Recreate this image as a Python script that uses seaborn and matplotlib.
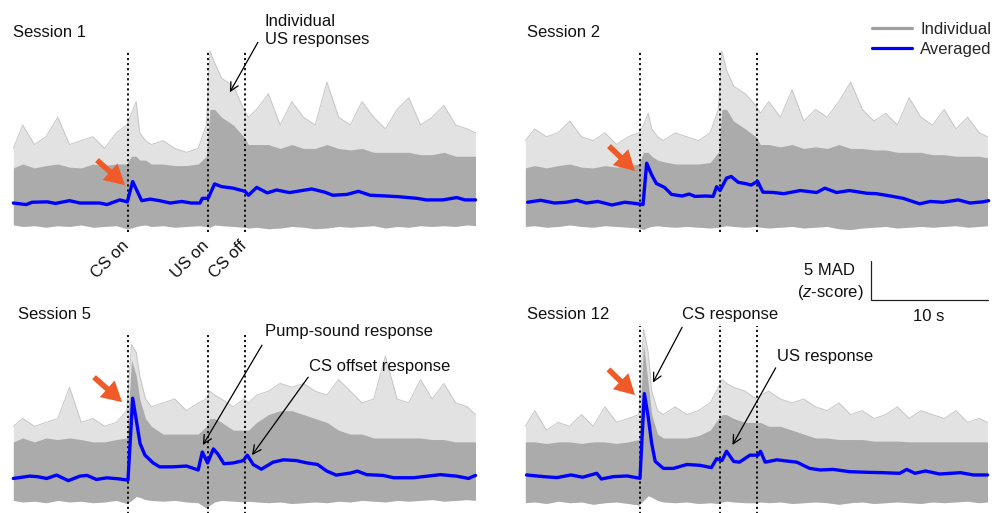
import numpy as np
import seaborn as sns
import matplotlib.pyplot as plt
from matplotlib.lines import Line2D

# Global plot settings
sns.set_theme(style="white")
plt.rcParams["font.family"] = ["Liberation Sans", "DejaVu Sans"]
plt.rcParams["mathtext.fontset"] = "custom"
plt.rcParams["mathtext.it"] = "Liberation Sans:italic"
plt.rcParams["mathtext.rm"] = "Liberation Sans"

# Event times (s, relative to CS onset)
events = [0.0, 6.84, 10.0]
event_labels = ["CS on", "US on", "CS off"]

# Time grid of the individual-trace envelopes (s)
t_env = [-9.8, -9, -8, -7, -6, -5, -4, -3, -2, -1,
         -0.1, 0.3, 0.7, 1, 1.5, 2,
         3, 4, 5, 6,
         6.7, 7.0, 7.4, 8, 9,
         9.9, 10.3,
         11, 12, 13, 14, 15, 16, 17, 18, 19, 20, 21, 22, 23, 24, 25, 26, 27, 28, 29, 29.7]

# ---- Session 1 (MAD, z-score) ----
s1_peak = [7, 10, 7.5, 8.5, 11, 7.5, 8, 8.5, 7, 9,
           10, 11.5, 13, 9, 8, 7.5,
           8, 7, 6.5, 7,
           10, 19.5, 18, 16, 15,
           12, 11,
           12, 14, 10, 13, 11, 10, 15.5, 11, 10, 13, 11, 9.5, 12, 13.5, 10, 11, 12.5, 10, 9.5, 9]
s1_dense = [4.5, 5, 4.5, 4.8, 5, 4.6, 4.5, 5, 4.8, 5,
            5, 6, 6, 5.5, 5.5, 5,
            5, 4.8, 4.8, 5,
            6, 12, 12, 11, 10,
            8.5, 7.5,
            7.5, 7.5, 7, 7.5, 7, 7, 7.5, 7, 6.8, 7, 6.5, 6.5, 6.5, 6.5, 6.2, 6.2, 6.5, 6, 6, 6]
s1_low = [-2.8, -3.0, -2.9, -3.1, -2.9, -3.0, -2.8, -3.1, -3.0, -2.9,
          -3.3, -3.2, -3.0, -2.9, -2.8, -3.0,
          -2.9, -3.1, -3.0, -2.9,
          -3.0, -3.1, -2.8, -2.9, -3.0,
          -3.1, -3.2,
          -3.1, -3.3, -3.2, -3.0, -3.1, -3.3, -3.2, -3.0, -3.1, -3.0, -2.9, -3.2, -3.0, -3.1, -2.9, -3.0, -2.9, -3.0, -2.8, -2.9]
s1_t = [-9.8, -8.7, -8.2, -6.9, -6.2, -5.0, -4.1, -2.4, -1.8, -0.7, -0.06, 0.4, 1.17, 1.9, 2.7,
        3.6, 4.6, 5.4, 6.15, 6.35, 6.85, 7.4, 8.0, 9.0, 10.0, 10.3, 11.0, 11.9, 12.7, 13.8,
        15.7, 16.8, 17.5, 18.7, 19.7, 20.7, 22.1, 23.2, 24.7, 25.5, 26.9, 28.1, 28.8, 29.7]
s1_avg = [0, -0.2, 0.1, 0.15, -0.05, 0.3, 0.0, 0.0, -0.2, 0.4, 0.15, 2.75, 0.3, 0.5, 0.3,
          0.0, 0.2, 0.0, 0.0, 0.6, 0.6, 2.45, 2.1, 1.9, 1.5, 1.0, 2.0, 1.3, 1.67, 1.34,
          1.8, 1.4, 1.0, 1.1, 1.5, 1.0, 0.9, 0.8, 0.6, 0.4, 0.4, 0.7, 0.4, 0.4]

# ---- Session 2 ----
s2_peak = [8, 9.5, 8.5, 9, 10.5, 8.5, 8, 9, 7.5, 8.5,
           9, 10, 11.5, 9.5, 8.5, 8,
           9, 8.5, 8, 9,
           12, 19.5, 17, 15, 14,
           12.5, 11.5,
           13, 11, 14.5, 10.5, 12, 11, 13, 15.5, 12, 10.5, 11.5, 10, 13.5, 11, 10, 12, 9.5, 11, 9, 8.5]
s2_dense = [4.5, 4.8, 4.5, 4.8, 5, 4.6, 4.5, 4.8, 4.6, 4.8,
            5, 6.5, 6.5, 6, 5.5, 5.3,
            5, 5, 5, 5.2,
            6.5, 12, 12, 10.5, 9.5,
            8.5, 7.5,
            7.5, 7.2, 7.5, 7, 7.2, 7, 7.5, 7, 7, 6.8, 6.8, 6.5, 6.5, 6.5, 6.2, 6.2, 6, 6, 6, 5.8]
s2_low = [-3.0, -2.9, -3.1, -3.0, -2.8, -3.0, -3.1, -2.9, -3.0, -3.1,
          -3.2, -3.4, -3.1, -3.0, -2.9, -3.0,
          -3.1, -3.0, -3.1, -3.2,
          -3.1, -3.0, -2.9, -3.0, -3.1,
          -3.0, -3.1,
          -3.2, -3.1, -3.0, -3.2, -3.1, -3.0, -3.3, -3.4, -3.2, -3.1, -3.0, -3.2, -3.1, -3.0, -3.1, -3.0, -2.9, -3.1, -3.0, -2.9]
s2_t = [-9.6, -8.5, -7.3, -6.3, -5.4, -4.6, -3.6, -2.4, -1.3, -0.43, 0.26, 0.57, 1.0, 1.4, 2.1,
        2.7, 3.6, 4.2, 4.7, 5.6, 6.25, 6.55, 6.84, 7.4, 7.8, 8.4, 9.0, 9.5, 10.05, 10.5, 11.4,
        12.3, 13.7, 15.1, 15.8, 16.8, 17.9, 19.4, 20.2, 21.4, 22.5, 23.9, 24.8, 25.9, 27.2, 28.2,
        29.3, 29.8]
s2_avg = [0.1, 0.35, 0.0, 0.1, 0.35, 0.0, 0.2, -0.25, 0.1, -0.05, -0.2, 5.1, 3.6, 2.5, 2.0,
          1.1, 0.9, 1.15, 0.85, 0.9, 0.85, 2.1, 1.6, 3.2, 3.4, 2.65, 2.5, 2.3, 2.8, 1.4, 1.35,
          1.2, 1.6, 1.35, 1.9, 1.35, 1.6, 1.25, 1.2, 0.9, 0.6, -0.1, 0.2, 0.1, 0.4, 0.0,
          0.15, 0.3]

# ---- Session 5 ----
s5_peak = [6.5, 7.5, 6.5, 7, 7.5, 11.5, 7, 7.5, 6.5, 7,
           8.5, 17, 16, 13, 10, 9,
           9.5, 10, 8.5, 9.5,
           10, 11, 10.5, 10, 9,
           10, 9.5,
           10.5, 11, 12, 11.5, 12, 11, 10.5, 12.5, 11, 9.5, 10, 15.5, 10, 9.5, 12.5, 10, 12, 9.5, 9, 8]
s5_dense = [4.5, 5, 4.5, 5, 4.8, 5, 4.8, 4.5, 4.5, 4.8,
            5, 15, 13, 10, 7.5, 6.5,
            5.5, 5.5, 5.5, 5.5,
            6.5, 7.5, 7.5, 7, 6,
            6, 6,
            7, 8, 8.5, 8.5, 8, 7.5, 7, 6, 5.5, 5.5, 5, 5, 5, 5, 5, 4.8, 4.8, 4.5, 4.5, 4.5]
s5_low = [-3.0, -3.2, -3.1, -3.3, -3.0, -3.2, -3.1, -3.3, -3.2, -3.0,
          -3.4, -3.0, -2.5, -2.6, -2.9, -3.0,
          -3.1, -3.0, -3.2, -3.3,
          -4.0, -3.6, -3.2, -3.0, -3.1,
          -3.2, -3.1,
          -3.2, -3.3, -3.2, -3.4, -3.3, -3.2, -3.3, -3.1, -3.2, -3.0, -3.1, -3.2, -3.0, -3.1, -3.0, -2.9, -3.1, -3.0, -2.9, -3.0]
s5_t = [-9.8, -8.4, -7.7, -6.95, -6.1, -5.1, -4.1, -3.5, -2.7, -1.8, -0.8, 0.0, 0.4, 0.74,
        1.03, 1.45, 2.15, 2.7, 3.8, 5.0, 6.0, 6.35, 6.8, 7.3, 7.7, 8.2, 9.0, 9.85, 10.2, 10.7,
        11.4, 12.4, 13.3, 14.4, 15.3, 16.2, 17.0, 17.8, 19.0, 19.6, 20.4, 21.8, 22.7, 24.4,
        26.7, 28.1, 29.1, 29.7]
s5_avg = [-0.19, 0.11, 0.03, -0.19, 0.24, -0.47, 0.11, 0.2, -0.32, -0.11, -0.24, -0.41, 10.1, 7.0,
          4.3, 2.8, 1.8, 1.3, 1.3, 1.4, 0.9, 3.2, 1.8, 3.6, 2.9, 1.7, 1.8, 2.1, 2.8, 1.6,
          1.0, 1.9, 2.2, 2.1, 1.8, 1.6, 0.75, 0.24, 0.5, 0.75, 0.3, 0.2, -0.1, -0.1,
          0.3, 0.1, -0.19, 0.2]

# ---- Session 12 ----
s12_peak = [6.5, 8.5, 6, 7, 6.5, 8, 6.5, 9, 7, 7.5,
            8, 19, 16, 11, 8.5, 8,
            9, 8, 8.5, 9.5,
            11.5, 12.5, 12, 11.5, 11,
            10, 10.5,
            11, 10, 9.5, 10, 9, 8.5, 9.5, 8, 8.5, 7.5, 8, 9, 7.5, 8.5, 8, 7.5, 8.5, 7, 7.5, 7]
s12_dense = [4.5, 4.5, 4.3, 4.5, 4.5, 4.3, 4.5, 4.5, 4.3, 4.5,
             4.8, 17, 12, 8, 5.5, 5,
             5, 5, 5.3, 6,
             7.5, 8, 8, 7.5, 7,
             7, 7,
             6.5, 6.5, 6, 5.5, 5, 5, 4.8, 4.8, 4.8, 4.6, 4.6, 4.6, 4.5, 4.5, 4.5, 4.5, 4.5, 4.5, 4.5, 4.5]
s12_low = [-3.3, -3.2, -3.4, -3.1, -3.3, -3.2, -3.5, -3.3, -3.2, -3.4,
           -3.6, -3.0, -2.4, -2.6, -3.0, -3.2,
           -3.3, -3.2, -3.4, -3.3,
           -3.4, -3.2, -3.1, -3.2, -3.3,
           -3.3, -3.2,
           -3.3, -3.2, -3.4, -3.3, -3.2, -3.3, -3.5, -3.3, -3.2, -3.4, -3.3, -3.2, -3.3, -3.4, -3.2, -3.3, -3.2, -3.1, -3.3, -3.2]
s12_t = [-9.7, -8.2, -7.1, -5.9, -4.9, -3.7, -3.3, -2.3, -1.1, 0.0, 0.37, 0.7, 1.0, 1.3, 2.0,
         2.85, 4.0, 5.1, 6.1, 6.55, 7.0, 7.4, 8.0, 8.5, 9.4, 10.1, 10.3, 10.7, 11.7, 12.5,
         13.4, 14.5, 15.4, 16.5, 17.9, 19.4, 20.8, 22.2, 22.8, 23.5, 24.4, 25.6, 27.4, 28.5, 29.7]
s12_avg = [0.26, 0.04, -0.08, 0.26, -0.03, 0.47, -0.26, 0.04, 0.13, -0.17, 10.7, 7.7, 4.3, 2.0, 1.1,
           1.1, 1.6, 1.5, 1.2, 2.35, 2.1, 3.3, 2.0, 1.9, 2.8, 2.8, 3.3, 1.9, 2.2, 2.05,
           1.9, 1.1, 0.9, 0.97, 0.68, 0.6, 0.55, 0.47, 0.97, 0.47, 0.77, 0.38, 0.55, 0.26, 0.26]

GRAY_LIGHT = "#e2e2e2"
GRAY_EDGE = "#c6c6c6"
GRAY_DENSE = "#ababab"
BLUE = "#0000ff"
ORANGE = "#f05a28"

W, H = 996, 513
fig = plt.figure(figsize=(W / 100, H / 100), dpi=100)


def add_panel(x0, y0, w, h, ylim):
    """Add an axes given in pixel units (top-left origin)."""
    ax = fig.add_axes([x0 / W, 1 - (y0 + h) / H, w / W, h / H])
    ax.set_xlim(-10, 30)
    ax.set_ylim(*ylim)
    ax.set_axis_off()
    return ax


def draw_session(ax, title, title_xy, peak, dense, low, t_avg, avg, vline_top, vline_bottom):
    ax.fill_between(t_env, low, peak, color=GRAY_LIGHT, lw=0)
    ax.plot(t_env, peak, color=GRAY_EDGE, lw=0.7)
    ax.fill_between(t_env, low, dense, color=GRAY_DENSE, lw=0)
    ax.vlines(events, vline_bottom, vline_top, colors="black",
              linestyles=(0, (1.2, 1.6)), lw=1.3, clip_on=False, zorder=3)
    sns.lineplot(x=t_avg, y=avg, ax=ax, color=BLUE, lw=2.4, zorder=4)
    ax.text(title_xy[0], title_xy[1], title, fontsize=12, ha="left", va="center",
            color="#111111")


def orange_arrow(ax, tail, tip):
    ax.annotate("", xy=tip, xytext=tail,
                arrowprops=dict(arrowstyle="simple,head_length=0.9,head_width=1.0,tail_width=0.25",
                                color=ORANGE, lw=0, shrinkA=0, shrinkB=0, mutation_scale=16))


def black_note(ax, text, text_xy, start, tip):
    ax.text(text_xy[0], text_xy[1], text, fontsize=12, ha="left", va="center",
            linespacing=1.3, color="#111111")
    ax.annotate("", xy=tip, xytext=start,
                arrowprops=dict(arrowstyle="->,head_length=0.5,head_width=0.25",
                                color="black", lw=0.9, shrinkA=0, shrinkB=0))


top_ylim = (-4.74, 20.9)
bot_ylim = (-4.62, 21.03)

ax1 = add_panel(11, 40, 468, 200, top_ylim)
ax2 = add_panel(523, 40, 468, 200, top_ylim)
ax5 = add_panel(11, 313, 468, 200, bot_ylim)
ax12 = add_panel(523, 313, 468, 200, bot_ylim)

draw_session(ax1, "Session 1", (-9.83, 21.8), s1_peak, s1_dense, s1_low, s1_t, s1_avg, 19.6, -3.7)
draw_session(ax2, "Session 2", (-9.66, 21.8), s2_peak, s2_dense, s2_low, s2_t, s2_avg, 19.6, -3.7)
draw_session(ax5, "Session 5", (-9.4, 20.8), s5_peak, s5_dense, s5_low, s5_t, s5_avg, 18.2, -4.7)
draw_session(ax12, "Session 12", (-9.66, 20.8), s12_peak, s12_dense, s12_low, s12_t, s12_avg, 19.4, -4.7)

# Event labels under session 1
for ev, lab, dx in zip(events, event_labels, [0.34, 0.36, 0.4]):
    ax1.text(ev + dx, -4.5, lab, rotation=45, ha="right", va="top", fontsize=12, color="#111111")

# Orange arrows at CS onset
orange_arrow(ax1, (-2.65, 5.5), (-0.26, 2.3))
orange_arrow(ax2, (-2.65, 7.3), (-0.43, 4.1))
orange_arrow(ax5, (-2.9, 12.8), (-0.5, 9.6))
orange_arrow(ax12, (-2.7, 13.8), (-0.43, 10.5))

# Annotations
black_note(ax1, "Individual\nUS responses", (11.7, 22.1), (11.1, 20.6), (8.7, 14.2))
black_note(ax5, "Pump-sound response", (11.7, 18.7), (11.45, 16.9), (6.4, 4.1))
black_note(ax5, "CS offset response", (15.5, 14.2), (15.4, 12.8), (10.6, 2.8))
black_note(ax12, "CS response", (3.6, 20.8), (3.6, 19.2), (1.1, 12.1))
black_note(ax12, "US response", (11.7, 15.5), (11.6, 14.0), (7.9, 4.1))

# Scale bar (5 MAD, 10 s) in session 2 coordinates
ax2.plot([19.74, 19.74, 29.74], [-7.4, -12.4, -12.4], color="#222222", lw=0.9,
         clip_on=False, solid_joinstyle="miter")
ax2.text(18.4, -8.6, "5 MAD", ha="right", va="center", fontsize=12, color="#111111")
ax2.text(19.1, -11.5, "($\\mathit{z}$-score)", ha="right", va="center", fontsize=12, color="#111111")
ax2.text(24.7, -14.6, "10 s", ha="center", va="center", fontsize=12, color="#111111")

# Legend
handles = [Line2D([], [], color="#a0a0a0", lw=2.3), Line2D([], [], color=BLUE, lw=2.3)]
fig.legend(handles, ["Individual", "Averaged"], loc="upper left",
           bbox_to_anchor=(872 / W, 1 - 22 / H), frameon=False, fontsize=12,
           handlelength=2.4, handletextpad=0.5, labelspacing=0.3,
           borderpad=0, borderaxespad=0)

fig.savefig("out.png", dpi=100)
